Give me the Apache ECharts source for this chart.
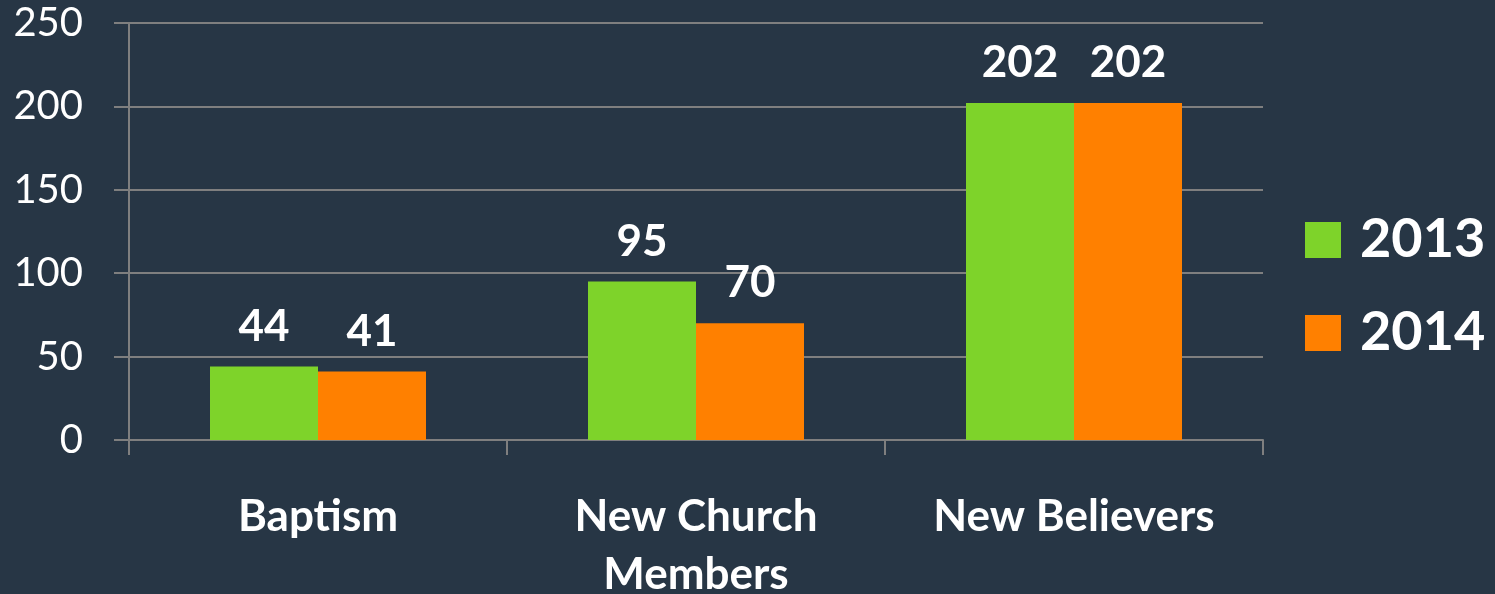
<!DOCTYPE html>
<html>
<head>
<meta charset="utf-8">
<script src="https://cdn.jsdelivr.net/npm/echarts@6/dist/echarts.min.js"></script>
<style>
  html, body { margin: 0; padding: 0; background: #273645; }
  #chart { width: 1495px; height: 594px; }
</style>
</head>
<body>
<div id="chart"></div>
<script>
var categories = ["Baptism", "New Church\nMembers", "New Believers"];
var years = ["2013", "2014"];
var values2013 = [44, 95, 202];
var values2014 = [41, 70, 202];
var colors = ["#7ed32a", "#ff8000"];

var chart = echarts.init(document.getElementById("chart"));

var lineColor = "#7f7f7f";
var fontName = "Lato";

function makeSeries(name, data, color) {
    return {
        name: name,
        type: "bar",
        data: data,
        barWidth: 108,
        barGap: "0%",
        itemStyle: { color: color },
        label: {
            show: true,
            position: "top",
            distance: 18,
            color: "#ffffff",
            fontFamily: fontName,
            fontWeight: "bold",
            fontSize: 44
        }
    };
}

var option = {
    backgroundColor: "#273645",
    animation: false,
    grid: { left: 129, right: 232, top: 23, bottom: 154, outerBoundsMode: "none", containLabel: false },
    legend: {
        orient: "vertical",
        left: 1305,
        top: 212,
        padding: 0,
        itemWidth: 36,
        itemHeight: 36,
        itemGap: 37,
        icon: "rect",
        textStyle: {
            color: "#ffffff",
            fontFamily: fontName,
            fontWeight: "bold",
            fontSize: 54,
            lineHeight: 56,
            padding: [0, 0, 0, 14]
        },
        data: years
    },
    xAxis: {
        type: "category",
        data: categories,
        axisLine: { show: true, lineStyle: { color: lineColor, width: 2 } },
        axisTick: { show: true, length: 15, lineStyle: { color: lineColor, width: 2 } },
        axisLabel: {
            color: "#ffffff",
            fontFamily: fontName,
            fontWeight: "bold",
            fontSize: 44,
            lineHeight: 58,
            margin: 48
        }
    },
    yAxis: {
        type: "value",
        min: 0,
        max: 250,
        interval: 50,
        axisLine: { show: true, lineStyle: { color: lineColor, width: 2 } },
        axisTick: { show: true, length: 15, lineStyle: { color: lineColor, width: 2 } },
        splitLine: { show: true, lineStyle: { color: lineColor, width: 2 } },
        axisLabel: {
            color: "#ffffff",
            fontFamily: fontName,
            fontSize: 40,
            margin: 46
        }
    },
    series: [
        makeSeries(years[0], values2013, colors[0]),
        makeSeries(years[1], values2014, colors[1])
    ]
};

chart.setOption(option);
</script>
</body>
</html>
